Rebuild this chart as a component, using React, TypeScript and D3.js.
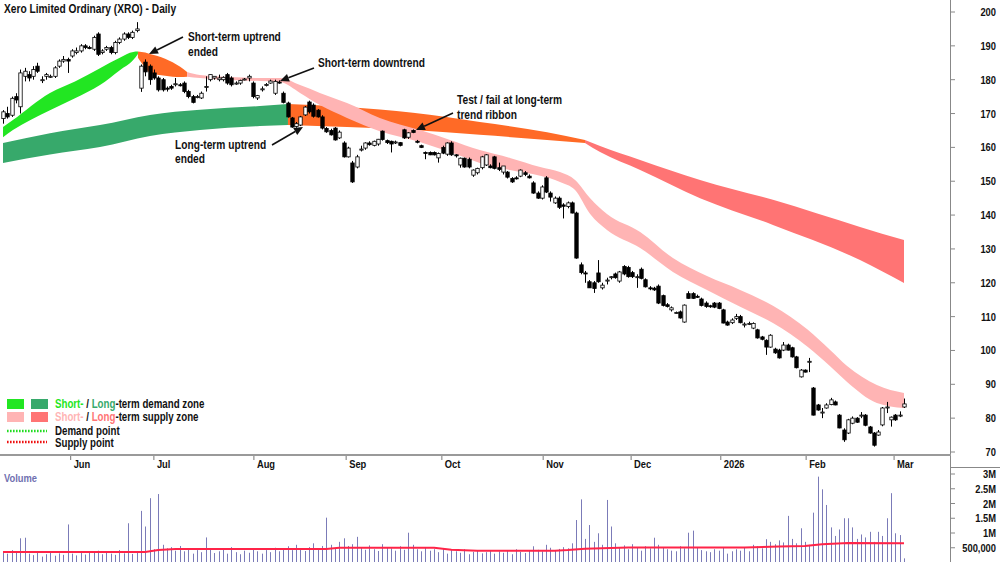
import React from "react";
import * as d3 from "d3";

const W = 1000;
const H = 562;

// daily candles [open, high, low, close], May 2025 - Mar 2026
const candles: [number, number, number, number][] = [
  [168.5, 171, 167, 170.5], [170, 172, 168.5, 169], [169.5, 175, 169, 174.5], [175, 176, 173, 174],
  [172, 183, 170, 182], [181, 183.5, 179.5, 182.5], [181.5, 182.5, 179.5, 180.5], [181, 184, 180, 183],
  [184, 185, 182, 182.5], [180, 181, 179, 180], [181, 182, 180, 181.5], [181, 181.5, 180.5, 181],
  [181, 184, 180.5, 183.5], [184, 186, 183.5, 185.5], [185.5, 187, 185, 186], [186, 186.5, 182, 185.5],
  [187, 189, 186.5, 188.5], [188, 189.5, 187.5, 188.5], [188.5, 190.5, 188, 190], [190, 190.5, 189, 189.5],
  [189.5, 190, 189, 189.2], [189, 193, 188.5, 192.5], [193.5, 194, 187, 187.5], [188, 189, 187.5, 188.5],
  [189, 190, 188.5, 189.5], [189.5, 190, 187.5, 188], [188, 191.5, 187.5, 191], [191, 192.5, 190.5, 192],
  [192, 194, 191.5, 193.5], [193.5, 194, 192, 192.5], [192.5, 194.5, 192, 194], [194.5, 197, 194, 195],
  [177.5, 184.5, 176.4, 184], [185.2, 186, 181, 182.3], [184, 184.5, 178.5, 180], [182, 183, 180, 180.5],
  [180.5, 181, 176.5, 177], [180, 180.5, 176.5, 177], [177.5, 178, 176.5, 177.2], [178, 178.5, 177, 177.5],
  [178.5, 180.5, 178, 178.8], [178.5, 179, 178, 178.3], [179, 179.5, 176, 176.5], [176.5, 177, 174.5, 175],
  [175, 175.5, 173, 173.3], [175, 175.5, 174.5, 175], [174.6, 176.5, 174.3, 176], [178, 181, 176.5, 178],
  [180, 181.5, 179.5, 181.5], [180.5, 181, 180, 181], [180, 181.5, 179.5, 180.5], [180, 181, 179.5, 180.7],
  [181.5, 182, 178.5, 179], [180.5, 181, 178, 178.5], [179, 179.5, 178.5, 179], [179, 180, 178.5, 179.8],
  [180, 180.5, 179.8, 180.2], [180.5, 181.5, 179.5, 181], [179, 179.5, 174.5, 175], [174.6, 175.5, 174, 175.3],
  [177, 178, 176.5, 177.3], [178.3, 179, 178, 178.6], [179, 180, 178.8, 179.6], [176, 180, 175.5, 179.5],
  [179.3, 179.8, 178.8, 179], [176, 176.5, 173, 173.3], [173.1, 173.5, 168.8, 169], [168.7, 169, 165.8, 166],
  [166.2, 167.5, 165.8, 167], [166.6, 169.3, 166.3, 169], [169.6, 172.2, 169.3, 171.9], [173.4, 173.8, 170, 170.5],
  [172.5, 173, 168.8, 169.2], [171, 171.3, 168.8, 169], [169, 169.5, 165.3, 165.7], [165.6, 166, 164.3, 164.6],
  [165, 165.5, 163.5, 163.7], [165.7, 166, 162, 162.2], [162.8, 165, 162.5, 164.5], [161.3, 161.8, 157, 157.2],
  [157.2, 160.2, 157, 159.8], [155.4, 156, 149.5, 149.8], [154.2, 157.8, 153.8, 157.2], [159.2, 160.5, 158.8, 159.5],
  [159.8, 161.5, 159.3, 161.3], [161.3, 161.8, 160.5, 160.8], [160.6, 162, 160.3, 161.8], [161, 162.5, 160.5, 162.4],
  [164.8, 165, 162, 162.3], [162, 162.3, 161, 161.4], [161.8, 162, 158.5, 161], [161.5, 162, 161, 161.6],
  [161.4, 161.6, 160.3, 160.6], [165.2, 165.5, 162.5, 162.8], [163, 164.5, 162.5, 164.3], [165, 165.3, 164.2, 164.4],
  [161.8, 162.2, 161.2, 161.6], [160.5, 160.8, 159.8, 160], [158.5, 158.8, 156.5, 158.3], [158.5, 158.8, 157.7, 157.8],
  [158.5, 158.8, 157.6, 157.8], [156.9, 158.5, 155.5, 158.2], [160, 160.5, 158, 158.3], [158, 161.5, 157.5, 161.3],
  [161.3, 161.8, 157.5, 157.8], [157.8, 158, 157, 157.5], [154.8, 157, 154, 156.8], [156.8, 157, 154, 154.2],
  [156.5, 157, 153.8, 154.2], [151.8, 153.5, 151.3, 153.3], [152.5, 154, 152, 153.8], [154, 157.5, 153.5, 157.2],
  [154.8, 158, 154.5, 157.8], [154.5, 155, 153.8, 154], [157.2, 157.5, 153.5, 153.8], [154, 155.5, 153, 153.5],
  [152.7, 154.5, 152, 154.5], [152.7, 153, 150.8, 151.2], [150.8, 151.2, 149.5, 149.8], [151, 151.5, 150.5, 150.8],
  [151.5, 153.5, 151.2, 153.3], [152.5, 153, 151.5, 152], [151.5, 152, 150.8, 151], [149.5, 150, 146.3, 146.5],
  [146.5, 147, 144.8, 145], [145, 148.8, 144.6, 148.3], [151, 151.5, 146.5, 146.8], [146.5, 147, 144, 145.3],
  [143.6, 145.5, 143.3, 145], [145, 145.5, 141.8, 142.3], [143, 143.5, 139, 142.6], [142.5, 144, 142, 143.6],
  [143.6, 144, 140.5, 140.6], [140.6, 141, 127.1, 127.3], [125.3, 126, 122.5, 123], [122.9, 123.5, 120, 122.7],
  [120.3, 120.8, 118.5, 118.5], [120, 120.5, 117, 118.3], [122.9, 126.7, 120, 120.3], [118.5, 120, 118, 119.3],
  [120.5, 121.5, 119.5, 120.8], [121.5, 122, 121, 121.8], [122.6, 123, 121.2, 121.5], [120.5, 123.5, 120, 123.2],
  [124.8, 125.2, 122.2, 122.6], [124.5, 125, 121.5, 121.8], [123, 123.5, 121.4, 121.8], [121.8, 122.5, 118.5, 121.8],
  [124, 124.5, 121, 121.3], [120.9, 121.3, 118.6, 118.8], [118.5, 119, 117.8, 118.2], [118.4, 118.8, 117.6, 117.9],
  [119, 119.5, 113.7, 114], [116.2, 116.5, 113, 113.3], [113.5, 114, 112.7, 113], [112, 113, 111.5, 112.6],
  [111, 111.5, 110.8, 111.2], [111.4, 111.8, 109.4, 109.6], [108.4, 113.6, 108.2, 113.4], [116.8, 117.5, 115.3, 115.4],
  [116.8, 117.2, 115.2, 115.4], [116, 116.5, 115.5, 115.8], [115.2, 115.6, 113, 113.3], [114, 114.5, 112.6, 113],
  [113.2, 113.5, 112.6, 113], [114, 114.3, 112.5, 112.8], [114, 114.3, 112.2, 112.4], [112, 112.3, 108, 108.1],
  [108.4, 108.8, 107.3, 107.5], [108.2, 109.5, 107.8, 109], [109.5, 110.8, 109, 110], [110, 110.5, 108, 108.2],
  [107.8, 108.3, 106.8, 107.8], [108, 108.5, 107.5, 108], [106.6, 108.3, 106.3, 108], [106.1, 106.4, 103.5, 103.7],
  [104, 104.3, 103, 103.3], [103, 103.3, 98.7, 101], [101, 104.8, 100.8, 104.5], [100.4, 100.8, 99, 99.3],
  [100.1, 100.5, 97.6, 97.8], [100.1, 102.5, 99.8, 101.6], [101.6, 102, 100, 100.1], [100.8, 101.1, 97.9, 98.1],
  [98.1, 98.4, 94.7, 94.9], [92.2, 94.5, 92, 94.2], [94.2, 94.4, 93.5, 93.6], [96.6, 97.8, 93.6, 96.8],
  [88.9, 89.2, 80.8, 80.9], [83.9, 84.2, 82.2, 82.4], [81.8, 83, 80, 81.8], [83, 84.4, 82.8, 83.9],
  [84, 86, 83.8, 85.4], [84.8, 85.2, 83.8, 83.9], [80.9, 81.2, 77, 77.1], [76.5, 77, 73, 73.6],
  [75.6, 79.8, 75.3, 79.5], [78.5, 80.5, 78.2, 80], [80, 80.3, 78.6, 78.8], [80.9, 81.8, 80, 80.9],
  [80.9, 81.2, 77.6, 77.9], [77.4, 77.7, 75.4, 75.6], [75.6, 75.9, 71.6, 72], [75, 76.5, 74.8, 75.9],
  [78, 83.3, 77.6, 83], [83.3, 84.8, 81.5, 83.3], [79.5, 80.5, 77.5, 80.3], [80.9, 81.2, 79.2, 79.5],
  [80.9, 82, 80.3, 80.9], [83.3, 85.8, 83, 84.2],
];

// daily volume, thousands of shares
const volumes = [
  350, 300, 420, 330, 820, 840, 300, 250, 380, 200,
  280, 350, 230, 310, 260, 1290, 300, 240, 320, 270,
  380, 330, 400, 280, 350, 300, 260, 420, 310, 1330,
  290, 380, 1750, 1220, 2180, 450, 2320, 600, 480, 520,
  400, 560, 380, 450, 300, 420, 350, 850, 460, 320,
  380, 430, 300, 520, 350, 280, 400, 330, 450, 380,
  300, 420, 350, 500, 380, 450, 550, 420, 600, 480,
  390, 520, 650, 430, 560, 1520, 600, 480, 700, 820,
  560, 620, 870, 500, 430, 580, 450, 390, 620, 520,
  480, 400, 550, 430, 1010, 600, 450, 380, 520, 400,
  450, 350, 480, 300, 420, 380, 330, 450, 280, 360,
  400, 310, 350, 420, 300, 380, 330, 400, 280, 450,
  360, 320, 400, 550, 430, 380, 600, 500, 420, 460,
  520, 480, 650, 1440, 2140, 800, 1270, 700, 990, 600,
  2120, 1220, 650, 500, 580, 450, 620, 500, 400, 550,
  480, 840, 600, 520, 450, 400, 380, 550, 480, 1010,
  1080, 500, 420, 380, 350, 450, 400, 520, 300, 380,
  450, 400, 520, 380, 600, 550, 480, 790, 700, 620,
  750, 680, 1580, 800, 650, 1160, 700, 600, 1690, 2910,
  2480, 1950, 1190, 900, 1120, 1500, 1500, 1190, 800, 950,
  850, 1040, 700, 1040, 900, 1500, 2350, 990, 930, 140,
];

// average volume line [day, thousands]
const volumeAvg: [number, number][] = [
  [0, 360], [33, 360], [36, 420], [40, 460], [75, 460], [78, 500], [100, 500], [104, 430],
  [110, 400], [128, 400], [131, 420], [135, 470], [145, 510], [172, 510], [180, 540],
  [186, 560], [190, 620], [196, 660], [209, 650],
];

// ribbons [day, upper, lower]
const shortDemand: [number, number, number][] = [
  [0, 166, 163], [2.3, 168.1, 165.1], [10.9, 176.1, 171], [16.7, 179.5, 174.5],
  [22.5, 183.4, 178.4], [27.1, 186.5, 182.8], [30.2, 188.2, 185.8], [31.3, 188.3, 187.6],
];
const shortTurn: [number, number, number][] = [
  [31.3, 188.3, 186.5], [33, 188, 183.5], [34.1, 187.6, 182], [37.6, 186.2, 181.2],
  [41.1, 183.8, 180.8], [42.7, 182.3, 180.9],
];
const shortSupply: [number, number, number][] = [
  [42.7, 182.3, 180.9], [45.7, 181.4, 180.5], [52.7, 180.8, 179.9], [59.6, 180.5, 179.6],
  [64.3, 180.5, 179.3], [68.9, 178.4, 176.1], [73.5, 176.1, 172.5], [79.8, 173.1, 168.7],
  [87.4, 168.7, 164.8], [96.7, 165.1, 161.6], [103.7, 162.2, 158.6], [110.6, 159.2, 155.4],
  [117.6, 156.9, 153.3], [124.6, 154.2, 151.6], [129.2, 152.7, 149.8], [132.7, 150.4, 147.4],
  [136.2, 145, 140.3], [140.1, 140.3, 135.6], [147.8, 135, 130.3], [155.4, 127.3, 123.2],
  [163.3, 122, 117.9], [171, 117.9, 112.9], [178.6, 113.2, 108.1], [186.7, 106.1, 101],
  [191.8, 100.2, 95.4], [195.8, 95.4, 90.7], [202.7, 89.8, 84.5], [209, 87.4, 83],
];
const longDemand: [number, number, number][] = [
  [0, 161.3, 155.4], [10.9, 164.2, 157.9], [22.5, 166.6, 160.1], [34.1, 169.6, 163.4],
  [45.7, 171.1, 165.1], [59.6, 172.2, 166.3], [66.1, 172.8, 166.6],
];
const longTurn: [number, number, number][] = [
  [66.1, 172.8, 166.6], [79.8, 171.9, 166], [95.1, 170.2, 165.1], [110.6, 167.5, 163.7],
  [126.2, 164.5, 162.2], [135, 162.2, 161.3],
];
const longSupply: [number, number, number][] = [
  [135, 162.2, 161.3], [138.5, 160.4, 158.6], [147.8, 156.3, 153.3], [161.7, 150.4, 145],
  [178.6, 144.5, 137.1], [198.8, 136.5, 126.7], [209, 132.6, 119.9],
];

const monthLabels = ["Jun", "Jul", "Aug", "Sep", "Oct", "Nov", "Dec", "2026", "Feb", "Mar"];
const monthTicks = [15.7, 35, 58.2, 79.6, 101.8, 125.3, 145.7, 166.5, 186.3, 206.7];
const priceTicks = [70, 80, 90, 100, 110, 120, 130, 140, 150, 160, 170, 180, 190, 200];
const volumeTicks = [500, 1000, 1500, 2000, 2500, 3000];
const volumeTickLabels = ["500,000", "1M", "1.5M", "2M", "2.5M", "3M"];

const FONT = "'Liberation Sans', Arial, sans-serif";
const C = {
  shortUp: "#22e622",
  longUp: "#37a96b",
  turn: "#ff6a26",
  shortDown: "#ffb4b4",
  longDown: "#ff7474",
  vol: "#7b7bb8",
  avg: "#ff2448",
};

const Txt = ({ x, y, children, anchor = "start", size = 12, fill = "#111", sx = 0.85 }: any) => (
  <text
    transform={`translate(${x},${y}) scale(${sx},1)`}
    textAnchor={anchor}
    fontSize={size}
    fontWeight="bold"
    fill={fill}
    fontFamily={FONT}
  >
    {children}
  </text>
);

const Arrow = ({ x1, y1, x2, y2 }: any) => {
  const a = Math.atan2(y2 - y1, x2 - x1);
  const L = 9, w = 4;
  const bx = x2 - L * Math.cos(a), by = y2 - L * Math.sin(a);
  const pts = [
    [x2, y2],
    [bx + w * Math.sin(a), by - w * Math.cos(a)],
    [bx - w * Math.sin(a), by + w * Math.cos(a)],
  ];
  return (
    <g>
      <line x1={x1} y1={y1} x2={bx} y2={by} stroke="#111" strokeWidth={1.6} />
      <polygon points={pts.map((p) => p.join(",")).join(" ")} fill="#111" />
    </g>
  );
};

export default function App() {
  const x = d3.scaleLinear().domain([0, candles.length - 1]).range([3, 904]);
  const y = d3.scaleLinear().domain([70, 200]).range([452, 12]);
  const yv = d3.scaleLinear().domain([0, 3000]).range([562.5, 474]);

  const band = d3
    .area<[number, number, number]>()
    .x((d) => x(d[0]))
    .y0((d) => y(d[2]))
    .y1((d) => y(d[1]))
    .curve(d3.curveMonotoneX);
  const avgLine = d3
    .line<[number, number]>()
    .x((d) => x(d[0]))
    .y((d) => yv(d[1]));

  const bw = 3.4;

  return (
    <svg
      width={W}
      height={H}
      style={{ position: "absolute", left: 0, top: 0, background: "#fff" }}
    >
      <rect width={W} height={H} fill="#fff" />

      {/* ribbons */}
      <path d={band(longDemand) || ""} fill={C.longUp} />
      <path d={band(longTurn) || ""} fill={C.turn} />
      <path d={band(longSupply) || ""} fill={C.longDown} />
      <path d={band(shortDemand) || ""} fill={C.shortUp} />
      <path d={band(shortTurn) || ""} fill={C.turn} />
      <path d={band(shortSupply) || ""} fill={C.shortDown} />

      {/* candles */}
      {candles.map(([o, h, l, c], i) => {
        const cx = Math.round(x(i)) + 0.5;
        const up = c >= o;
        const top = y(Math.max(o, c));
        const bot = y(Math.min(o, c));
        return (
          <g key={i}>
            <line x1={cx} x2={cx} y1={y(h)} y2={y(l)} stroke="#000" strokeWidth={1} />
            <rect
              x={cx - bw / 2}
              y={top}
              width={bw}
              height={Math.max(1, bot - top)}
              fill={up ? "#fff" : "#000"}
              stroke="#000"
              strokeWidth={0.8}
            />
          </g>
        );
      })}

      {/* title */}
      <Txt x={4} y={13}>Xero Limited Ordinary (XRO) - Daily</Txt>

      {/* annotations */}
      <Txt x={188} y={41}>Short-term uptrend</Txt>
      <Txt x={188} y={56}>ended</Txt>
      <Arrow x1={183} y1={37} x2={149} y2={54} />
      <Txt x={318} y={67}>Short-term downtrend</Txt>
      <Arrow x1={314} y1={68} x2={280} y2={81} />
      <Txt x={457} y={104}>Test / fail at long-term</Txt>
      <Txt x={457} y={119}>trend ribbon</Txt>
      <Arrow x1={453} y1={113} x2={416} y2={130} />
      <Txt x={175} y={149}>Long-term uptrend</Txt>
      <Txt x={175} y={163}>ended</Txt>
      <Arrow x1={272} y1={145} x2={303} y2={127} />

      {/* legend */}
      <rect x={7} y={399} width={17} height={10} fill={C.shortUp} />
      <rect x={31} y={399} width={17} height={10} fill={C.longUp} />
      <text transform="translate(55,408) scale(0.81,1)" fontSize={12} fontWeight="bold" fontFamily={FONT} fill="#111">
        <tspan fill={C.shortUp}>Short-</tspan> / <tspan fill={C.longUp}>Long</tspan>-term demand zone
      </text>
      <rect x={7} y={412} width={17} height={10} fill={C.shortDown} />
      <rect x={31} y={412} width={17} height={10} fill={C.longDown} />
      <text transform="translate(55,421) scale(0.81,1)" fontSize={12} fontWeight="bold" fontFamily={FONT} fill="#111">
        <tspan fill={C.shortDown}>Short-</tspan> / <tspan fill={C.longDown}>Long</tspan>-term supply zone
      </text>
      <line x1={7} x2={47} y1={431} y2={431} stroke="#22dd22" strokeWidth={2.5} strokeDasharray="1.6,1.4" />
      <Txt x={55} y={435} sx={0.81}>Demand point</Txt>
      <line x1={7} x2={47} y1={442} y2={442} stroke="#ee1111" strokeWidth={2.5} strokeDasharray="1.6,1.4" />
      <Txt x={55} y={447} sx={0.81}>Supply point</Txt>

      {/* price axis */}
      <line x1={950.5} x2={950.5} y1={0} y2={H} stroke="#888" strokeWidth={1} />
      {priceTicks.map((t) => (
        <g key={t}>
          <line x1={951} x2={955} y1={y(t)} y2={y(t)} stroke="#888" />
          <Txt x={996} y={y(t) + 4} anchor="end" size={11}>{t}</Txt>
        </g>
      ))}

      {/* date axis */}
      <line x1={0} x2={951} y1={455} y2={455} stroke="#9a9a9a" strokeWidth={2} />
      <line x1={950} x2={W} y1={467.5} y2={467.5} stroke="#888" strokeWidth={1} />
      {monthTicks.map((t, i) => (
        <g key={i}>
          <line x1={x(t)} x2={x(t)} y1={456} y2={460} stroke="#777" />
          <Txt x={x(t) + 3} y={468} size={11}>{monthLabels[i]}</Txt>
        </g>
      ))}

      {/* volume */}
      <Txt x={4} y={482} size={11} fill="#7070b0">Volume</Txt>
      {volumes.map((v, i) => {
        const cx = Math.round(x(i)) + 0.5;
        return <line key={i} x1={cx} x2={cx} y1={yv(0)} y2={yv(v)} stroke={C.vol} strokeWidth={1} />;
      })}
      <path d={avgLine(volumeAvg) || ""} fill="none" stroke={C.avg} strokeWidth={2} />
      {volumeTicks.map((t, i) => (
        <g key={t}>
          <line x1={951} x2={955} y1={yv(t)} y2={yv(t)} stroke="#888" />
          <Txt x={996} y={yv(t) + 4} anchor="end" size={11}>{volumeTickLabels[i]}</Txt>
        </g>
      ))}
    </svg>
  );
}
